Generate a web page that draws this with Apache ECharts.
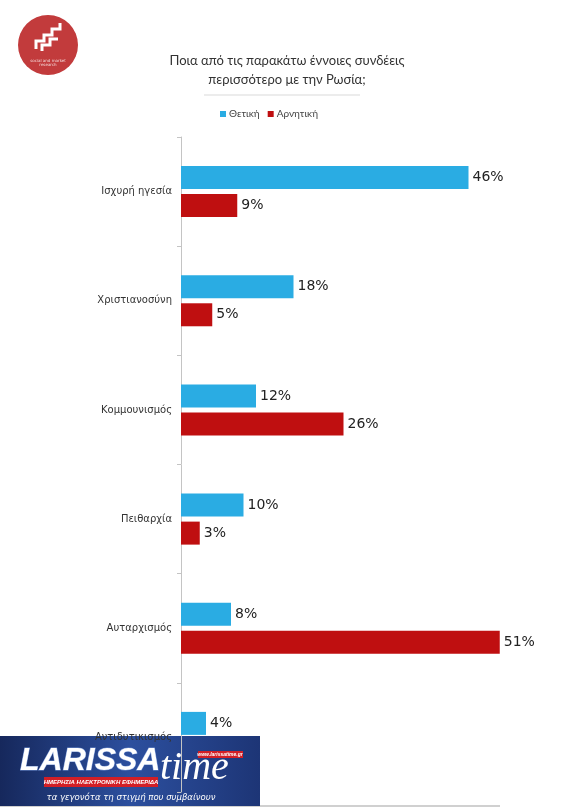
<!DOCTYPE html>
<html>
<head>
<meta charset="utf-8">
<script src="https://cdn.jsdelivr.net/npm/echarts@6/dist/echarts.min.js"></script>
<style>
  html, body { margin: 0; padding: 0; background: #fff; }
  #chart { width: 578px; height: 807px; }
</style>
</head>
<body>
<div id="chart"></div>
<script>
const categories = ['Ισχυρή ηγεσία', 'Χριστιανοσύνη', 'Κομμουνισμός', 'Πειθαρχία', 'Αυταρχισμός', 'Αντιδυτικισμός'];
const positive = [46, 18, 12, 10, 8, 4];
// last red bar is covered by the newspaper logo in the source image
const negative = [9, 5, 26, 3, 51, null];
const seriesNames = ['Θετική', 'Αρνητική'];

const font = 'DejaVu Sans';
const blue = '#2aace3';
const red = '#bf0f10';

const valueLabel = {
    show: true,
    position: 'right',
    distance: 4,
    formatter: '{c}%',
    fontFamily: font,
    fontSize: 14,
    color: '#222'
};

const option = {
    animation: false,
    textStyle: { fontFamily: font },
    title: {
        text: 'Ποια από τις παρακάτω έννοιες συνδέεις\nπερισσότερο με την Ρωσία;',
        left: 282,
        top: 46,
        textAlign: 'center',
        textStyle: {
            fontFamily: 'Lato',
            fontSize: 13,
            fontWeight: 'normal',
            color: '#333',
            lineHeight: 19
        }
    },
    legend: {
        data: seriesNames,
        left: 215,
        top: 104,
        icon: 'rect',
        itemWidth: 6,
        itemHeight: 6,
        itemGap: 8,
        itemStyle: { borderWidth: 0 },
        textStyle: { fontFamily: 'Lato', fontSize: 10, color: '#444', padding: [0, 0, 0, -2] }
    },
    grid: {
        left: 181,
        right: 22,
        top: 137,
        bottom: 15
    },
    xAxis: {
        type: 'value',
        min: 0,
        max: 60,
        show: false
    },
    yAxis: {
        type: 'category',
        data: categories,
        inverse: true,
        axisLine: { lineStyle: { color: '#c4c4c4', width: 1 } },
        axisTick: { show: true, length: 4, lineStyle: { color: '#c4c4c4' } },
        axisLabel: {
            margin: 9,
            fontFamily: font,
            fontSize: 10,
            color: '#333'
        }
    },
    series: [
        {
            name: seriesNames[0],
            type: 'bar',
            data: positive,
            barWidth: 23,
            barGap: '22%',
            itemStyle: { color: blue },
            label: valueLabel
        },
        {
            name: seriesNames[1],
            type: 'bar',
            data: negative,
            barWidth: 23,
            itemStyle: { color: red },
            label: valueLabel
        }
    ],
    graphic: [
        // title underline
        {
            type: 'line',
            shape: { x1: 204, y1: 95, x2: 360, y2: 95 },
            style: { stroke: '#d9d9d9', lineWidth: 1 }
        },
        // pollster logo
        {
            type: 'group',
            left: 18,
            top: 15,
            children: [
                { type: 'circle', shape: { cx: 30, cy: 30, r: 30 }, style: { fill: '#c23b3c' } },
                { type: 'polyline', shape: { points: [[18, 34], [18, 26], [26, 26], [26, 20], [34, 20], [34, 14], [42, 14], [42, 8]] }, style: { stroke: '#fff', lineWidth: 3, fill: null } },
                { type: 'polyline', shape: { points: [[24, 36], [24, 30], [32, 30], [32, 24], [40, 24]] }, style: { stroke: '#fff', lineWidth: 3, fill: null } },
                { type: 'text', style: { x: 30, y: 44, text: 'social and market\nresearch', align: 'center', fill: '#f3d6d6', fontSize: 4, fontFamily: font } }
            ]
        },
        // newspaper logo overlay at the bottom
        {
            type: 'group',
            left: 0,
            top: 736,
            z: 100,
            children: [
                { type: 'rect', shape: { x: 0, y: 69, width: 500, height: 2 }, style: { fill: '#d0d0d0' } },
                {
                    type: 'rect',
                    shape: { x: 0, y: 0, width: 260, height: 70 },
                    style: {
                        fill: new echarts.graphic.LinearGradient(0, 0, 1, 0, [
                            { offset: 0, color: '#16285c' },
                            { offset: 0.5, color: '#2c4f9e' },
                            { offset: 1, color: '#1d3576' }
                        ])
                    }
                },
                { type: 'text', style: { x: 20, y: 9, text: 'LARISSA', fill: '#fff', stroke: '#6f8fd0', lineWidth: 1, fontSize: 32, fontWeight: 'bold', fontStyle: 'italic', fontFamily: 'Liberation Sans' } },
                { type: 'text', style: { x: 160, y: 12, text: 'time', fill: '#fff', fontSize: 40, fontStyle: 'italic', fontFamily: 'Liberation Serif' } },
                { type: 'rect', shape: { x: 198, y: 15, width: 45, height: 7 }, style: { fill: '#d21f26' } },
                { type: 'text', style: { x: 220, y: 16, text: 'www.larissatime.gr', align: 'center', fill: '#fff', fontSize: 5, fontStyle: 'italic', fontWeight: 'bold', fontFamily: 'Liberation Sans' } },
                { type: 'rect', shape: { x: 44, y: 41, width: 114, height: 10 }, style: { fill: '#d21f26' } },
                { type: 'text', style: { x: 101, y: 43, text: 'ΗΜΕΡΗΣΙΑ ΗΛΕΚΤΡΟΝΙΚΗ ΕΦΗΜΕΡΙΔΑ', align: 'center', fill: '#fff', fontSize: 6, fontStyle: 'italic', fontWeight: 'bold', fontFamily: 'Liberation Sans' } },
                { type: 'text', style: { x: 131, y: 57, text: 'τα γεγονότα τη στιγμή που συμβαίνουν', align: 'center', fill: '#fff', fontSize: 8.5, fontStyle: 'italic', fontFamily: 'DejaVu Sans' } }
            ]
        }
    ]
};

const chart = echarts.init(document.getElementById('chart'));
chart.setOption(option);
</script>
</body>
</html>
